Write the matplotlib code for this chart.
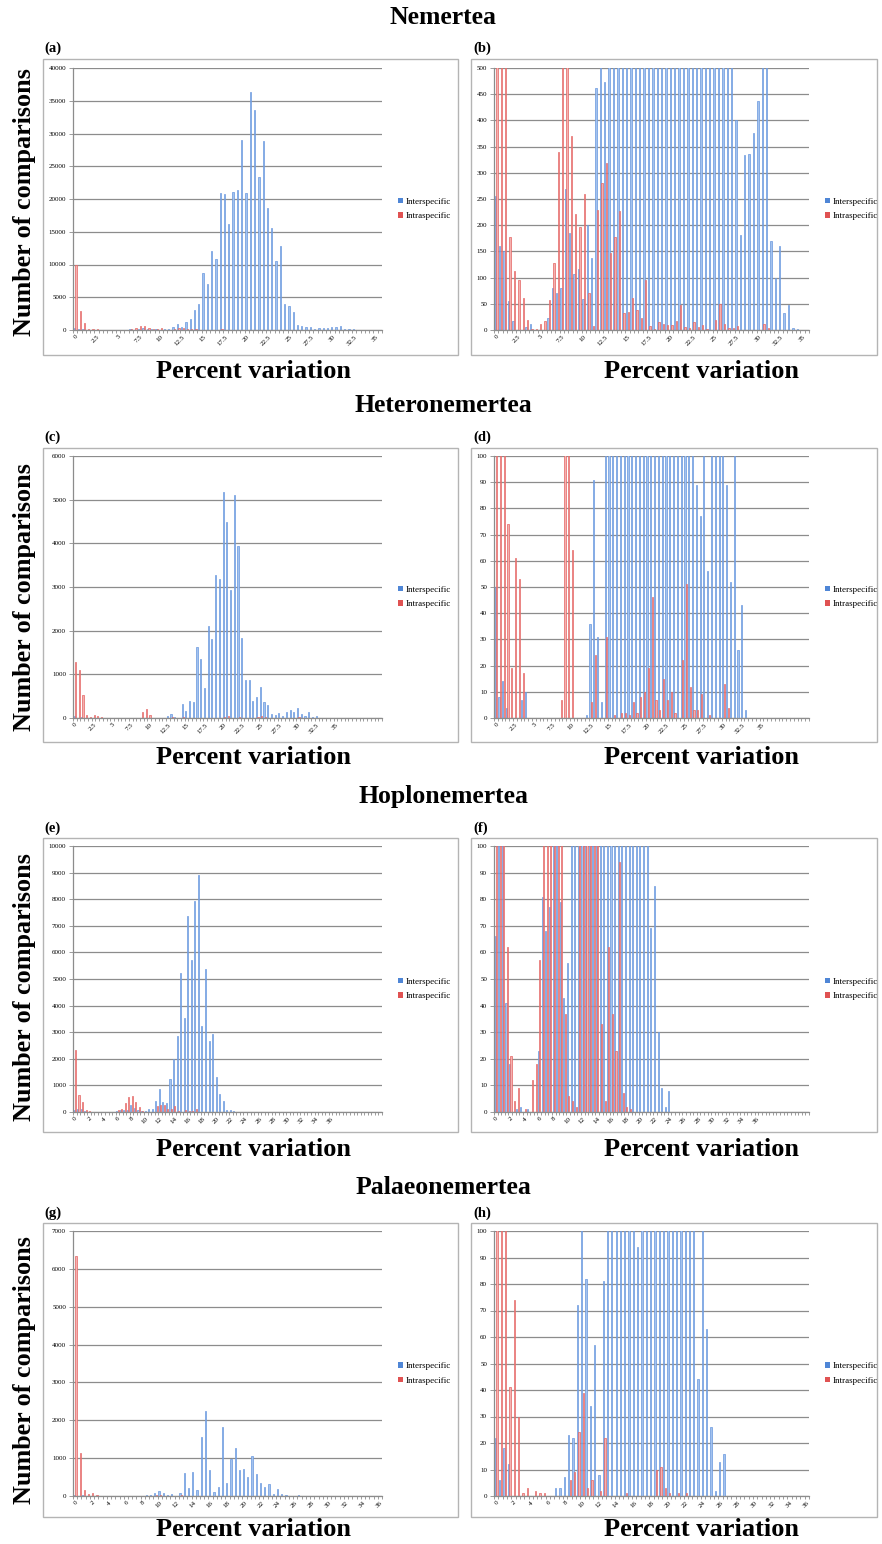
import numpy as np
import matplotlib
matplotlib.use("Agg")
import matplotlib.pyplot as plt
from matplotlib.patches import Rectangle, Patch

plt.rcParams['font.family'] = ['Liberation Serif', 'DejaVu Serif']

# ---- data: number of pairwise comparisons per 0.5 % bin ----
nem_inter = [256, 160, 151, 56, 17, 0, 0, 6, 11, 0,
             0, 0, 22, 80, 70, 80, 269, 185, 106, 116,
             60, 200, 137, 462, 850, 473, 1150, 1700, 3000, 4000,
             8700, 7000, 12100, 10800, 20900, 20700, 16200, 21000, 21300, 29000,
             20900, 36400, 33600, 23400, 28800, 18600, 15600, 10500, 12800, 4000,
             3600, 2700, 750, 600, 510, 400, 182, 334, 335, 376,
             437, 520, 560, 170, 100, 161, 32, 48, 4, 1,
             0, 0]
nem_intra = [10000, 2900, 1100, 177, 113, 95, 62, 19, 2, 2,
             12, 18, 57, 128, 340, 540, 620, 371, 221, 196,
             259, 70, 8, 229, 280, 318, 146, 177, 228, 33,
             35, 62, 38, 22, 96, 8, 2, 16, 12, 10,
             10, 18, 47, 5, 3, 15, 6, 9, 2, 0,
             20, 50, 11, 3, 3, 7, 0, 0, 0, 0,
             0, 12, 4, 0, 0, 0, 0, 0, 0, 0,
             0, 0]

het_inter = [50, 8, 14, 4, 0, 0, 0, 7, 10, 0,
             0, 0, 0, 0, 0, 0, 0, 0, 0, 0,
             0, 0, 0, 0, 1, 36, 91, 31, 6, 330,
             160, 380, 370, 1620, 1350, 690, 2100, 1820, 3270, 3180,
             5170, 4500, 2920, 5100, 3950, 1830, 860, 860, 400, 480,
             720, 360, 300, 89, 77, 120, 56, 130, 190, 130,
             230, 89, 52, 140, 26, 43, 3, 0, 0, 0,
             0, 0, 0, 0, 0, 0, 0, 0, 0, 0,
             0, 0, 0]
het_intra = [1290, 1090, 530, 74, 19, 61, 53, 17, 0, 0,
             0, 0, 0, 0, 0, 0, 0, 7, 130, 210,
             64, 0, 0, 0, 0, 6, 24, 0, 0, 31,
             0, 1, 0, 2, 2, 1, 6, 2, 8, 10,
             19, 46, 7, 3, 15, 7, 10, 2, 0, 22,
             51, 12, 3, 3, 9, 0, 1, 0, 0, 0,
             13, 4, 0, 0, 0, 0, 0, 0, 0, 0,
             0, 0, 0, 0, 0, 0, 0, 0, 0, 0,
             0, 0, 0]

hop_inter = [66, 130, 110, 41, 18, 0, 1, 2, 0, 1,
             0, 0, 23, 81, 68, 77, 260, 150, 79, 43,
             56, 110, 120, 400, 870, 370, 330, 1230, 2000, 2850,
             5220, 3520, 7370, 5720, 7950, 8900, 3250, 5360, 2670, 2950,
             1320, 660, 400, 69, 85, 30, 9, 2, 8, 0,
             0, 0, 0, 0, 0, 0, 0, 0, 0, 0,
             0, 0, 0, 0, 0, 0, 0, 0, 0, 0,
             0, 0, 0, 0, 0, 0, 0, 0, 0, 0,
             0, 0, 0, 0, 0, 0, 0]
hop_intra = [2320, 650, 360, 62, 21, 4, 9, 0, 1, 0,
             12, 18, 57, 130, 330, 550, 610, 370, 200, 37,
             6, 4, 2, 230, 280, 270, 130, 130, 240, 33,
             4, 62, 37, 23, 94, 7, 2, 1, 0, 0,
             0, 0, 0, 0, 0, 0, 0, 0, 0, 0,
             0, 0, 0, 0, 0, 0, 0, 0, 0, 0,
             0, 0, 0, 0, 0, 0, 0, 0, 0, 0,
             0, 0, 0, 0, 0, 0, 0, 0, 0, 0,
             0, 0, 0, 0, 0, 0, 0]

pal_inter = [22, 6, 18, 12, 0, 0, 0, 0, 0, 0,
             0, 0, 0, 0, 3, 3, 7, 23, 22, 72,
             130, 82, 34, 57, 8, 81, 620, 220, 640, 150,
             1550, 2250, 690, 94, 250, 1820, 340, 990, 1270, 690,
             720, 500, 1060, 570, 340, 240, 330, 44, 190, 63,
             26, 2, 13, 16, 0, 0, 0, 0, 0, 0,
             0, 0, 0, 0, 0, 0, 0, 0, 0, 0,
             0, 0, 0]
pal_intra = [6350, 1130, 170, 41, 74, 30, 1, 3, 0, 2,
             1, 1, 0, 0, 0, 0, 0, 6, 9, 24,
             39, 3, 6, 0, 2, 22, 0, 0, 0, 0,
             1, 0, 0, 0, 0, 0, 0, 10, 11, 3,
             1, 0, 1, 0, 1, 0, 0, 0, 0, 0,
             0, 0, 0, 0, 0, 0, 0, 0, 0, 0,
             0, 0, 0, 0, 0, 0, 0, 0, 0, 0,
             0, 0, 0]

half_labels = ["0", "2.5", "5", "7.5", "10", "12.5", "15", "17.5", "20",
               "22.5", "25", "27.5", "30", "32.5", "35"]
even_labels = ["0", "2", "4", "6", "8", "10", "12", "14", "16", "18", "20",
               "22", "24", "26", "28", "30", "32", "34", "36"]

W, H = 882, 1544
BLUE, BLUE_EDGE = '#a3c2ee', '#6897de'
RED, RED_EDGE = '#f4b0ae', '#e46462'
GRID = '#8c8c8c'
FRAME = '#b4b4b4'

rows = [
    dict(title="Nemertea", ty=17, inter=nem_inter, intra=nem_intra,
         labels=half_labels, step=5, full=(40000, 5000), clip=(500, 50),
         frame=(59, 355), plot=(68, 330), tags=("(a)", "(b)"), tag_y=48,
         ylab_y=202, xlab_y=372),
    dict(title="Heteronemertea", ty=406, inter=het_inter, intra=het_intra,
         labels=half_labels, step=5, full=(6000, 1000), clip=(100, 10),
         frame=(448, 742), plot=(456, 718), tags=("(c)", "(d)"), tag_y=437,
         ylab_y=597, xlab_y=758),
    dict(title="Hoplonemertea", ty=797, inter=hop_inter, intra=hop_intra,
         labels=even_labels, step=4, full=(10000, 1000), clip=(100, 10),
         frame=(838, 1132), plot=(846, 1112), tags=("(e)", "(f)"), tag_y=828,
         ylab_y=987, xlab_y=1150),
    dict(title="Palaeonemertea", ty=1187, inter=pal_inter, intra=pal_intra,
         labels=even_labels, step=4, full=(7000, 1000), clip=(100, 10),
         frame=(1223, 1517), plot=(1231, 1496), tags=("(g)", "(h)"), tag_y=1213,
         ylab_y=1370, xlab_y=1530),
]

fig = plt.figure(figsize=(W / 100, H / 100), dpi=100)


def fbox(x0, y0, x1, y1):
    return [x0 / W, 1 - y1 / H, (x1 - x0) / W, (y1 - y0) / H]


def draw_panel(ax, inter, intra, labels, step, ylim):
    n = len(inter)
    x = np.arange(n)
    ax.bar(x - 0.19, inter, width=0.3, color=BLUE, edgecolor=BLUE_EDGE, linewidth=0.5, zorder=2)
    ax.bar(x + 0.19, intra, width=0.3, color=RED, edgecolor=RED_EDGE, linewidth=0.5, zorder=2)
    ax.set_xlim(-0.5, n - 0.5)
    ax.set_ylim(0, ylim[0])
    ax.set_yticks(np.arange(0, ylim[0] + 1, ylim[1]))
    ax.yaxis.grid(True, color=GRID, linewidth=0.9, zorder=0)
    ax.set_axisbelow(True)
    for s in ('top', 'right'):
        ax.spines[s].set_visible(False)
    for s in ('left', 'bottom'):
        ax.spines[s].set_color(GRID)
        ax.spines[s].set_linewidth(0.9)
    ax.set_xticks(np.arange(0, step * len(labels), step))
    ax.set_xticklabels(labels, rotation=45, ha='right', va='top',
                       rotation_mode='anchor', fontsize=5)
    ax.set_xticks(np.arange(-0.5, n, 1), minor=True)
    ax.tick_params(axis='x', which='major', length=0, pad=3)
    ax.tick_params(axis='x', which='minor', length=2.5, color=GRID, width=0.6)
    ax.tick_params(axis='y', length=3, color=GRID, width=0.6, labelsize=5, pad=2)
    handles = [Patch(facecolor='#4f86d6', edgecolor='none', label='Interspecific'),
               Patch(facecolor='#e05252', edgecolor='none', label='Intraspecific')]
    return handles


for r in rows:
    fig.text(443 / W, 1 - r['ty'] / H, r['title'], ha='center', va='center',
             fontsize=18.5, fontweight='bold')
    for side in range(2):
        if side == 0:
            fx0, fx1, px0, px1, lx, tx, xl = 43, 458, 73, 382, 398, 44, 253
            ylim = r['full']
        else:
            fx0, fx1, px0, px1, lx, tx, xl = 471, 877, 494, 809, 825, 473, 702
            ylim = r['clip']
        f0, f1 = r['frame']
        fig.patches.append(Rectangle((fx0 / W, 1 - f1 / H), (fx1 - fx0) / W, (f1 - f0) / H,
                                     transform=fig.transFigure, fill=False,
                                     edgecolor=FRAME, linewidth=1.0))
        p0, p1 = r['plot']
        ax = fig.add_axes(fbox(px0, p0, px1, p1))
        handles = draw_panel(ax, r['inter'], r['intra'], r['labels'], r['step'], ylim)
        ax.legend(handles=handles, loc='center left',
                  bbox_to_anchor=(lx / W, 1 - ((p0 + p1) / 2 + 10) / H),
                  bbox_transform=fig.transFigure, frameon=False, fontsize=6.5,
                  handlelength=0.55, handleheight=0.55, handletextpad=0.3,
                  labelspacing=0.75, borderpad=0, borderaxespad=0)
        fig.text(tx / W, 1 - r['tag_y'] / H, r['tags'][side], ha='left', va='center',
                 fontsize=10.5, fontweight='bold')
        fig.text(xl / W, 1 - r['xlab_y'] / H, "Percent variation", ha='center',
                 va='center', fontsize=19, fontweight='bold')
    fig.text(25 / W, 1 - r['ylab_y'] / H, "Number of comparisons", rotation=90,
             ha='center', va='center', fontsize=18.8, fontweight='bold')

fig.savefig("out.png", dpi=100, facecolor='white')
